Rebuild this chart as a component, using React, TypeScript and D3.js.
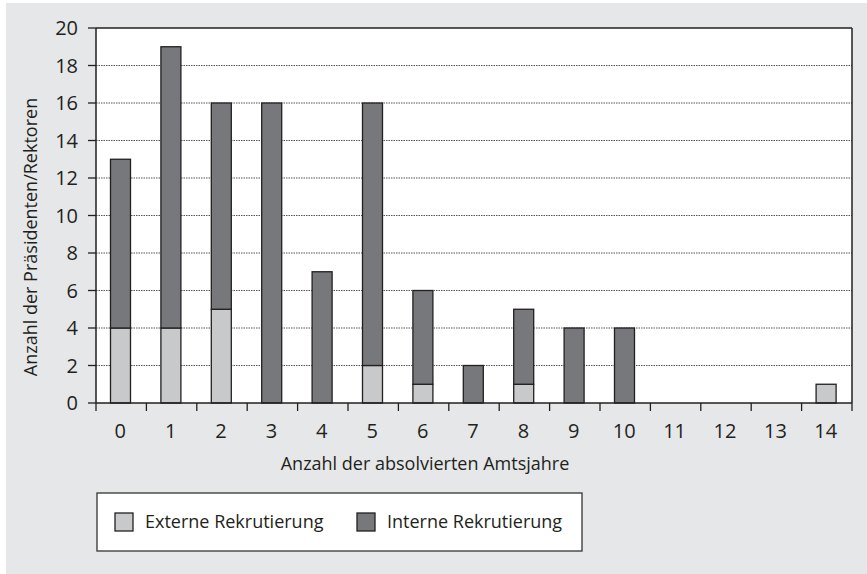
import React from "react";
import * as d3 from "d3";

const categories = ["0","1","2","3","4","5","6","7","8","9","10","11","12","13","14"];
const externe = [4, 4, 5, 0, 0, 2, 1, 0, 1, 0, 0, 0, 0, 0, 1];
const interne = [9, 15, 11, 16, 7, 14, 5, 2, 4, 4, 4, 0, 0, 0, 0];
const yTicks = [0, 2, 4, 6, 8, 10, 12, 14, 16, 18, 20];
const seriesNames = ["Externe Rekrutierung", "Interne Rekrutierung"];
const seriesColors = ["#c8c9ca", "#77787b"];

const W = 867, H = 574;
const L = 96, R = 852, T = 28, B = 403;
const FONT = "'Open Sans', sans-serif";

export default function App() {
  const x = d3.scaleBand<string>().domain(categories).range([L, R]).paddingInner(0).paddingOuter(0);
  const y = d3.scaleLinear().domain([0, 20]).range([B, T]);
  const rows = categories.map((c, i) => ({ cat: c, ext: externe[i], int: interne[i] }));
  const stacked = d3.stack<any>().keys(["ext", "int"])(rows as any);
  const bw = 20;
  const textColor = "#231f20";
  return (
    <svg width={W} height={H} style={{ position: "absolute", left: 0, top: 0 }}>
      <rect x={6} y={3} width={W - 6} height={H - 3} fill="#e6e7e8" />
      <rect x={L} y={T} width={R - L} height={B - T} fill="#ffffff" />
      {yTicks.filter(t => t > 0 && t < 20).map(t => (
        <line key={t} x1={L} x2={R} y1={y(t)} y2={y(t)} stroke="#555" strokeWidth={1} strokeDasharray="1.5,1" />
      ))}
      {stacked.map((s, si) =>
        s.map((d, i) => {
          const h = y(d[0]) - y(d[1]);
          if (h <= 0) return null;
          const cx = (x(categories[i]) as number) + x.bandwidth() / 2 - 0.7;
          return (
            <rect key={si + "-" + i} x={cx - bw / 2} y={y(d[1])} width={bw} height={h}
              fill={seriesColors[si]} stroke={textColor} strokeWidth={1.3} />
          );
        })
      )}
      <line x1={L} x2={R} y1={T} y2={T} stroke={textColor} strokeWidth={1.5} />
      <line x1={R} x2={R} y1={T} y2={B} stroke={textColor} strokeWidth={1.5} />
      <line x1={L} x2={L} y1={T} y2={B} stroke={textColor} strokeWidth={1.5} />
      <line x1={L} x2={R} y1={B} y2={B} stroke={textColor} strokeWidth={1.5} />
      {yTicks.map(t => (
        <g key={t}>
          <line x1={L - 8} x2={L} y1={y(t)} y2={y(t)} stroke={textColor} strokeWidth={1.3} />
          <text x={78} y={y(t)} dy="0.36em" textAnchor="end" fontFamily={FONT} fontSize={20} fill={textColor}>{t}</text>
        </g>
      ))}
      {categories.map(c => (
        <line key={"t" + c} x1={(x(c) as number)} x2={(x(c) as number)} y1={B} y2={B + 8} stroke={textColor} strokeWidth={1.3} />
      ))}
      <line x1={R} x2={R} y1={B} y2={B + 8} stroke={textColor} strokeWidth={1.3} />
      {categories.map(c => (
        <text key={"l" + c} x={(x(c) as number) + x.bandwidth() / 2 - 1} y={431} dy="0.36em" textAnchor="middle" fontFamily={FONT} fontSize={20} fill={textColor}>{c}</text>
      ))}
      <text x={425} y={464} dy="0.35em" textAnchor="middle" fontFamily={FONT} fontSize={18} fill={textColor}>Anzahl der absolvierten Amtsjahre</text>
      <text transform="translate(31,237) rotate(-90)" dy="0.35em" textAnchor="middle" fontFamily={FONT} fontSize={18} fill={textColor}>Anzahl der Präsidenten/Rektoren</text>
      <rect x={97} y={493} width={485} height={58} fill="#ffffff" stroke="#333" strokeWidth={1.3} />
      {seriesNames.map((n, i) => {
        const lx = i === 0 ? 115 : 357;
        return (
          <g key={n}>
            <rect x={lx} y={513} width={18} height={18} fill={seriesColors[i]} stroke={textColor} strokeWidth={1.3} />
            <text x={lx + 30} y={522} dy="0.35em" fontFamily={FONT} fontSize={18} fill={textColor}>{n}</text>
          </g>
        );
      })}
    </svg>
  );
}
